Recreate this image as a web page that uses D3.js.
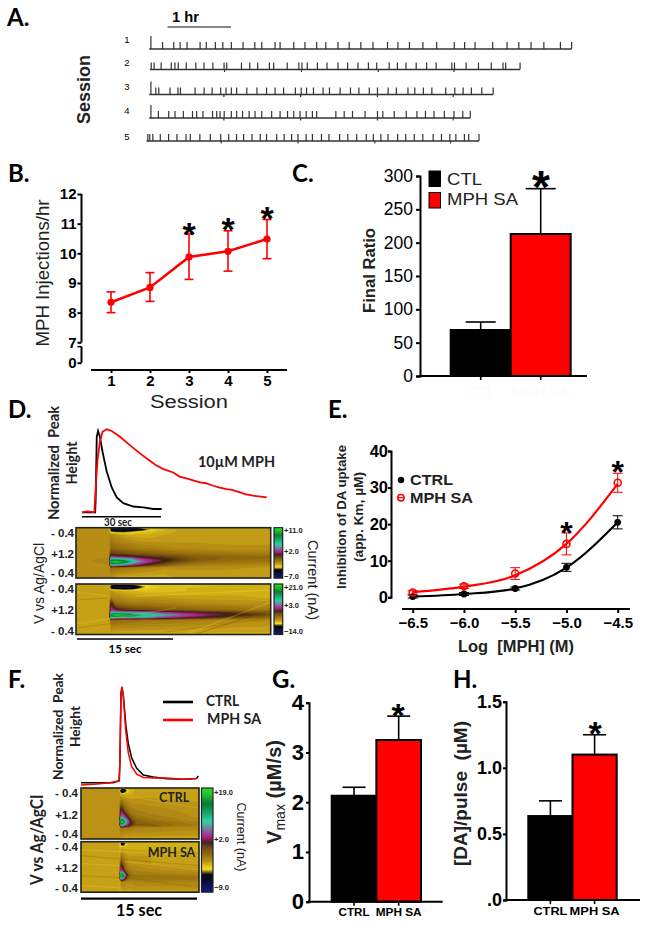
<!DOCTYPE html>
<html><head><meta charset="utf-8">
<script src="https://cdnjs.cloudflare.com/ajax/libs/d3/7.8.5/d3.min.js"></script>
<style>html,body{margin:0;padding:0;background:#fff}svg{display:block}text{white-space:pre}</style></head>
<body><div id="c"></div>
<script>
// ---------- DATA ----------
// A: injection times in minutes from session start
const sessions=[1,2,3,4,5];
const session1=[1.6,12.5,23,29,35.5,47.7,53.5,62,69,77,88,99,105.5,118,122.7,135.5,146,157,165.6,177,187.5,198.4,209.8,223.4,233.2,244,256.6,269.5,286,295.7,305.5,322,335.5,346.5,358,370,385.5,396];
const session2=[1.2,3.9,10.5,20,23.4,26.5,34,43,50.7,59,69.5,72,85.8,93.6,101,112,116,128.7,139.6,142.5,147.5,157,166,176.3,185.3,195,204.8,212.6,224.3,232,240,249.6,259.4,268.3,283,285.5,296.4,308,320,331,333.5,347];
const session3=[1.6,6.2,9,19.5,27,29.3,43,51.5,59,67,72,77,82,91.5,101,110,118,126,137,142.5,147.5,154,163,169,179,188.7,196.6,206.3,214,224,231.7,242.6,249,257,265,278,286.5,294.3,302,311.8,322.5];
const session4=[1.6,8.6,18.3,24.2,32,40.6,44.5,50.4,59.4,63.3,66.4,70.3,77,82,87.5,93.7,99.2,105.5,114.8,122.7,129.7,135.5,141.4,147.2,153,157,175,182.8,190.6,202.4,214,219,229.7,241,251,259,267,276.7,285.7,294,301];
const session5=[1.2,3,5.9,12.9,20.7,28.5,37,41,50,59.8,69.5,77,84.4,91,98.9,106.6,112.5,122,129,136,142,149.6,155.5,164,171,181,188.7,197,206,212.6,219.7,226.4,235.4,243,251,259,268.7,276.5,284.3,290,298,302,311.7];
const sessionTimes=[session1,session2,session3,session4,session5];
const sessionEnd=[396,347,322.5,301,311.7];
const sessionStart=[0,0.7,0,0,-2.5];
const sessionLine=[49,69.5,94.5,118,141];
const tallFirst=[true,false,true,true,false];
const hourMarks=[[],[70,142,214,285],[70,142,214,285],[70,142,214,285],[70,142,214,285]];
// B
const bSessions=[1,2,3,4,5];
const bMean=[8.35,8.85,9.88,10.07,10.48];
const bUpper=[8.7,9.35,10.65,10.76,11.14];
const bLower=[8.0,8.38,9.12,9.4,9.82];
const bTicks=[0,7,8,9,10,11,12];
// C
const cGroups=["CTL","MPH SA"];
const cValues=[69,213];
const cErrors=[81,281];
const cTicks=[0,50,100,150,200,250,300];
// D traces: seconds, % of peak
const dBlackT=[0,5,5.2,5.6,6.1,6.8,7.8,9.4,11.3,13.2,15.7,19.5,23.3,27.1,30.3];
const dBlackV=[0,0,15,91,98,91,73,49,30,18,11,7,6,4,4];
const dRedT=[0,2,4.7,5.3,5.9,6.8,7.8,9.4,11.3,14.4,18.2,22,25.8,28,30.9,34.7,37,39.7,44.8,47,49.9,52,54.9,57,60,62,65,68,70.2];
const dRedV=[0,1,0,35,63,85,97,100,98,91,81,71,62,57,52,48,43,41,36,35,32,30,28,27,24,22,20,19,18];
// heat maps: colour-bar position (0 bottom ... 100 top)
const d1Rows=[0,2,4,7,13,21,26,29,32,34,37,40,50];
const d1Cols=[0,33,35,40,48,56,66,76,88,100,120,150,195];
const d1Heat=[
[30,30,14,12,14,16,22,28,28,28,28,28,28],
[30,30,12,10,10,12,15,22,26,28,28,28,28],
[30,30,20,18,18,20,24,26,27,28,28,28,28],
[30,30,32,30,28,27,27,27,28,28,28,28,28],
[30,30,34,32,31,30,29,29,29,29,29,29,29],
[30,30,37,36,35,34,33,33,32,31,31,30,30],
[30,31,44,42,41,40,39,38,37,36,35,34,33],
[30,31,55,52,51,49,46,44,43,41,38,37,36],
[30,32,78,76,72,66,56,52,48,44,39,36,35],
[30,32,95,100,92,72,60,52,46,42,37,35,34],
[30,31,70,68,62,56,50,44,40,36,33,32,31],
[30,30,36,35,34,33,32,31,30,30,30,30,29],
[30,30,30,28,27,27,27,27,27,28,28,28,28]];
const d2Rows=[0,2,4,7,13,19,23,26,29,31,33,36,50];
const d2Cols=[0,33,35,40,48,57,70,87,110,140,165,187,195];
const d2Heat=[
[28,28,26,24,24,24,26,27,27,27,26,26,26],
[28,28,14,11,11,13,22,25,25,26,26,26,26],
[28,28,14,11,11,13,23,25,26,26,26,26,26],
[28,28,30,28,27,26,25,25,26,26,26,26,26],
[28,28,32,31,30,29,29,29,28,28,28,27,27],
[28,28,46,35,34,33,33,32,31,30,30,30,30],
[28,28,52,42,40,38,37,36,35,34,33,32,31],
[28,28,55,49,45,43,41,40,38,36,35,34,33],
[28,28,68,68,67,66,64,58,52,48,44,40,38],
[28,28,92,100,96,84,70,66,57,50,46,42,40],
[28,28,72,72,70,68,66,58,52,46,41,38,36],
[28,28,36,36,35,35,34,34,33,32,31,31,30],
[28,28,28,27,27,27,27,27,27,27,27,27,27]];
const fRows=[0,2,4,6,14,22,26,29,32,34,37,40,51];
const fCols=[0,38,40,42,44,47,50,55,70,118];
const f1Heat=[
[30,30,28,24,26,28,28,28,28,28],
[30,30,12,8,14,24,26,28,28,28],
[30,30,14,10,18,25,27,28,28,28],
[30,30,27,26,27,27,27,28,28,28],
[30,30,36,34,32,31,30,30,30,29],
[30,30,50,44,38,35,33,32,31,30],
[30,30,55,54,48,38,35,33,32,30],
[30,30,62,60,56,46,38,35,33,30],
[30,30,85,80,66,55,42,37,34,31],
[30,30,100,100,72,58,48,38,36,32],
[30,30,70,68,60,52,44,38,37,33],
[30,30,34,34,33,33,33,32,32,31],
[30,30,29,28,28,28,28,28,28,28]];
const f2Heat=[
[28,28,27,24,26,27,27,27,27,27],
[28,28,14,8,18,26,27,27,27,27],
[28,28,22,18,24,26,27,27,27,27],
[28,28,27,27,27,27,27,27,27,27],
[28,28,34,32,30,29,29,29,29,28],
[28,28,46,38,34,31,30,30,29,28],
[28,28,52,48,36,33,32,31,30,29],
[28,28,56,52,40,35,33,32,31,30],
[28,28,80,74,54,38,34,33,33,31],
[28,28,100,92,62,42,36,34,34,33],
[28,28,64,60,46,36,34,34,35,34],
[28,28,32,32,32,31,31,32,32,32],
[28,28,28,28,28,28,28,28,28,28]];
const barStops=[0,10,17,22,30,42,47,53,62,68,85,100];
const barColours=["#101c80","#0a1038","#000000","#f5e020","#b98f12","#6b4510","#3a2010","#b0208a","#6a8aa0","#20d0a0","#0a7a30","#20e820"];
// streaks: [x1,y1,x2,y2,colour] in heat-map units
const d2Streaks=[[110,50,195,18,"#f0d840"],[120,50,195,26,"#6b4510"],[0,40,100,24,"#e8cc30"],[0,44,80,34,"#8a6510"],[0,8,33,12,"#e8cc30"],[0,16,33,14,"#8a6510"],[60,12,195,6,"#f0d840"],[90,48,195,34,"#8a6510"]];
const f2Streaks=[[0,8,118,14,"#e8cc30"],[0,14,118,24,"#8a6510"],[0,22,38,24,"#e8cc30"],[0,34,38,36,"#8a6510"],[0,44,38,46,"#e8cc30"],[45,20,118,28,"#e8cc30"],[45,36,118,46,"#8a6510"],[39,0,39,51,"#e8d040"]];
const f1Streaks=[[45,8,118,20,"#e0c430"],[50,36,80,38,"#5a3a10"]];
// E
const eLog=[-6.5,-6,-5.5,-5,-4.5];
const eCtrl=[0.2,0.9,2.4,8.2,20.5];
const eCtrlErr=[0.4,0.4,0.4,1.1,1.8];
const eMph=[1.3,3,6.5,14.6,31.3];
const eMphErr=[0.5,0.6,1.6,3,2.6];
const eCtrlFit=[0.2,0.9,2.4,8.1,20.5];
const eMphFit=[1.4,2.9,6.0,14.6,31.0];
const eTicks=[0,10,20,30,40];
// F traces
const fBlackT=[0,2.46,4.18,4.96,5.04,5.17,5.3,5.47,5.82,6.12,6.55,7.2,8.06,9.35,11.08,13.23,14.96,15.17];
const fBlackV=[-1,-1,-1,1,23,93,99,91,58,40,25,14,7,5,3,2.5,3.5,6];
const fRedT=[0,2.03,3.75,4.91,5.04,5.17,5.3,5.47,5.78,6.12,6.55,7.2,8.06,9.35,11.08,13.23,14.96];
const fRedV=[-3.5,-2.5,-1,1,23,93,100,90,54,30,16,8,4.5,4,4,2.5,3];
// G, H
const gValues=[2.13,3.25];
const gErrors=[2.30,3.73];
const gTicks=[0,1,2,3,4];
const hValues=[0.635,1.10];
const hErrors=[0.75,1.25];
const hTicks=[0,0.5,1,1.5];
const ghGroups=["CTRL","MPH SA"];

// ---------- HELPERS ----------
const SANS="'Liberation Sans',Arial,sans-serif", LATO="Lato,'Open Sans',sans-serif";
const svg=d3.select("#c").append("svg").attr("width",649).attr("height",925).attr("viewBox","0 0 649 925");
const defs=svg.append("defs");
defs.append("filter").attr("id","soft").attr("x","-5%").attr("y","-5%").attr("width","110%").attr("height","110%")
  .append("feGaussianBlur").attr("stdDeviation",0.6);
function txt(x,y,s,o={}){
  const t=svg.append("text").attr("x",x).attr("y",y).text(s)
    .attr("font-family",o.family||SANS).attr("font-size",o.size||12).attr("font-weight",o.weight||"normal")
    .attr("fill",o.fill||"#000").attr("text-anchor",o.anchor||"start");
  if(o.rotate!==undefined)t.attr("transform",`rotate(${o.rotate} ${x} ${y})`);
  if(o.len)t.attr("textLength",o.len).attr("lengthAdjust","spacingAndGlyphs");
  return t;
}
function star(x,cy,size){txt(x,cy+0.56*size,"*",{size,weight:"bold",anchor:"middle"});}
function line(x1,y1,x2,y2,col,w){svg.append("line").attr("x1",x1).attr("y1",y1).attr("x2",x2).attr("y2",y2).attr("stroke",col||"#000").attr("stroke-width",w||1);}
function styleAxis(g,o){
  g.selectAll("path.domain").attr("stroke","#000").attr("stroke-width",o.w||2);
  g.selectAll(".tick line").attr("stroke","#000").attr("stroke-width",o.tw||o.w||2);
  g.selectAll("text").attr("font-family",o.family||SANS).attr("font-size",o.size).attr("font-weight",o.weight||"bold").attr("fill","#000");
}
["A.",7,26,"B.",8,182,"C.",292,182,"D.",8,418,"E.",328,418,"F.",8,688,"G.",272,688,"H.",453,688].reduce((a,v,i,arr)=>{
  if(i%3===0)txt(arr[i+1],arr[i+2],v,{family:LATO,size:24,weight:"bold"});return a;},0);

// ---------- PANEL A ----------
const aX=d3.scaleLinear().domain([0,60]).range([149.2,213.2]);
line(167.5,27,231,27,"#111",1.2);
txt(185.5,22,"1 hr",{size:15,weight:"bold",anchor:"middle",len:27});
txt(90,89.5,"Session",{size:18,weight:"bold",anchor:"middle",rotate:-90,len:69,fill:"#222"});
const aLabelY=[43,66,90,114,140];
sessions.forEach((s,i)=>{
  const y=sessionLine[i], off=sessionStart[i];
  txt(127,aLabelY[i],String(s),{size:9.5,anchor:"middle"});
  const g=svg.append("g").attr("stroke","#333").attr("stroke-width",1.2);
  g.append("line").attr("x1",aX(off)).attr("x2",aX(sessionEnd[i]+off)).attr("y1",y).attr("y2",y).attr("stroke-width",1.4);
  g.selectAll("line.t").data(sessionTimes[i]).join("line").attr("class","t")
    .attr("x1",d=>aX(d+off)).attr("x2",d=>aX(d+off)).attr("y1",y)
    .attr("y2",(d,j)=>y-((j===0&&tallFirst[i])?13:7));
  g.selectAll("line.h").data(hourMarks[i]).join("line").attr("class","h")
    .attr("x1",d=>aX(d+off)).attr("x2",d=>aX(d+off)).attr("y1",y).attr("y2",y+2.5);
});

// ---------- PANEL B ----------
const bX=d3.scaleLinear().domain([1,5]).range([111,267]);
const bY=d3.scaleLinear().domain([0,7,12]).range([362.7,342.3,194]);
const bAxis=svg.append("g").attr("transform","translate(81.5,0)").call(d3.axisLeft(bY).tickValues(bTicks).tickSize(4).tickPadding(1).tickFormat(d3.format("d")));
styleAxis(bAxis,{size:15});
bAxis.select("path.domain").remove();
line(81.5,bY(7),81.5,bY(12),"#000",2);
line(81.5,bY(0),81.5,bY(5.5),"#000",2);
line(77.5,bY(5.5),81.5,bY(5.5),"#000",1.5);
const bXAxis=svg.append("g").attr("transform","translate(0,370)").call(d3.axisBottom(bX).tickValues(bSessions).tickSize(3).tickPadding(2).tickFormat(d3.format("d")));
styleAxis(bXAxis,{size:15});
bXAxis.select("path.domain").attr("d","M91,0H287");
txt(49,273,"MPH Injections/hr",{size:18.5,anchor:"middle",rotate:-90,len:147,fill:"#222"});
txt(189,407.5,"Session",{size:17.5,anchor:"middle",len:78,fill:"#222"});
const RED="#ff0000";
bSessions.forEach((s,i)=>{
  line(bX(s),bY(bUpper[i]),bX(s),bY(bLower[i]),RED,1.6);
  line(bX(s)-4.5,bY(bUpper[i]),bX(s)+4.5,bY(bUpper[i]),RED,1.6);
  line(bX(s)-4.5,bY(bLower[i]),bX(s)+4.5,bY(bLower[i]),RED,1.6);
});
svg.append("path").attr("d",d3.line().x((d,i)=>bX(bSessions[i])).y(d=>bY(d))(bMean)).attr("fill","none").attr("stroke",RED).attr("stroke-width",2.6);
svg.selectAll("circle.b").data(bMean).join("circle").attr("class","b").attr("cx",(d,i)=>bX(bSessions[i])).attr("cy",d=>bY(d)).attr("r",3.6).attr("fill",RED);
[[3,227],[4,222],[5,211]].forEach(p=>star(bX(p[0]),p[1],34));

// ---------- BAR PANELS ----------
function barPanel(o){
  const y=d3.scaleLinear().domain(o.domain).range(o.yRange);
  const ax=svg.append("g").attr("transform",`translate(${o.axisX},0)`).call(d3.axisLeft(y).tickValues(o.ticks).tickSize(o.tick||4).tickPadding(o.pad||2).tickFormat(o.format));
  styleAxis(ax,{size:o.tickSize,weight:o.tickWeight,w:2});
  const xb=d3.scaleBand().domain(o.groups).range(o.barRange).padding(0);
  o.groups.forEach((g,i)=>{
    const cx=xb(g)+xb.bandwidth()/2;
    line(cx,y(o.values[i]),cx,y(o.errors[i]),"#000",1.6);
    line(cx-o.cap,y(o.errors[i]),cx+o.cap,y(o.errors[i]),"#000",1.6);
    line(cx,y(0),cx,y(0)+4,"#000",1.6);
    svg.append("rect").attr("x",xb(g)).attr("y",y(o.values[i])).attr("width",xb.bandwidth()).attr("height",y(0)-y(o.values[i]))
      .attr("fill",i===0?"#000":RED).attr("stroke","#000").attr("stroke-width",2);
    if(o.label)txt(cx+(o.labelDx?o.labelDx[i]:0),o.labelY,g,{size:o.labelSize,weight:o.labelWeight||"bold",anchor:"middle",fill:o.labelFill||"#000",len:o.labelLen?o.labelLen[i]:null});
  });
  line(o.axisX-1,y(0),o.axisEnd,y(0),"#000",2);
  return {y,xb};
}
// C
const cP=barPanel({domain:[0,300],yRange:[376,176],axisX:420,axisEnd:587,ticks:cTicks,tick:4,pad:3,format:d3.format("d"),tickSize:17.5,tickWeight:"normal",
  groups:cGroups,values:cValues,errors:cErrors,barRange:[450.7,570.7],cap:15,label:true,labelY:397,labelSize:15,labelWeight:"normal",labelFill:"#fbfbfb"});
txt(375,270.5,"Final Ratio",{size:16,weight:"bold",anchor:"middle",rotate:-90,len:85,fill:"#222"});
svg.append("rect").attr("x",429).attr("y",171).attr("width",11.5).attr("height",15.5).attr("fill","#000").attr("stroke","#000");
svg.append("rect").attr("x",429).attr("y",192.5).attr("width",11.5).attr("height",15.5).attr("fill",RED).attr("stroke","#000");
txt(447,185,"CTL",{size:17,len:35,fill:"#222"});
txt(447,205,"MPH SA",{size:17,len:71,fill:"#222"});
star(541,177,46);
// G
barPanel({domain:[0,4],yRange:[901.7,702.7],axisX:309,axisEnd:442.7,ticks:gTicks,tick:3,pad:0,format:d3.format("d"),tickSize:22,
  groups:ghGroups,values:gValues,errors:gErrors,barRange:[331.7,421],cap:11.5,label:true,labelY:915.7,labelSize:10,labelLen:[31,46]});
const vt=txt(280.7,792,"V",{size:20,weight:"bold",anchor:"middle",rotate:-90,fill:"#222"});
vt.text(null);
vt.append("tspan").text("V");
vt.append("tspan").attr("font-size",14).attr("dy",4).attr("font-weight","normal").text("max");
vt.append("tspan").attr("dy",-4).text(" (µM/s)");
vt.attr("textLength",104).attr("lengthAdjust","spacing");
star(398,707.7,34);
// H
barPanel({domain:[0,1.5],yRange:[900,701.7],axisX:506,axisEnd:640,ticks:hTicks,tick:3,pad:1,
  format:d=>d===0?".0":d3.format(".1f")(d),tickSize:18,
  groups:ghGroups,values:hValues,errors:hErrors,barRange:[528.3,616.7],cap:11.5,label:true,labelY:915,labelSize:11,labelLen:[34,50]});
txt(466.7,793.5,"[DA]/pulse  (µM)",{size:18,weight:"bold",anchor:"middle",rotate:-90,len:145,fill:"#222"});
star(595,726,34);

// ---------- HEAT MAPS ----------
const heatColour=d3.scaleLinear().domain(barStops).range(barColours).clamp(true);
let hid=0;
function heat(o){
  const id="h"+(hid++), w=o.w,h=o.h;
  defs.append("clipPath").attr("id",id).append("rect").attr("width",w).attr("height",h);
  const n=o.cols.length,m=o.rows.length;
  const flat=o.matrix.flat();
  const xs=d3.scaleLinear().domain(o.cols.map((c,i)=>i+0.5)).range(o.cols).clamp(true);
  const ys=d3.scaleLinear().domain(o.rows.map((c,i)=>i+0.5)).range(o.rows).clamp(true);
  const path=d3.geoPath(d3.geoTransform({point(x,y){this.stream.point(xs(x),ys(y));}}));
  const th=d3.range(d3.min(flat),101,1.5);
  const outer=svg.append("g").attr("transform",`translate(${o.x},${o.y})`);
  const clip=outer.append("g").attr("clip-path",`url(#${id})`);
  const inner=clip.append("g").attr("filter","url(#soft)");
  inner.append("rect").attr("x",-3).attr("y",-3).attr("width",w+6).attr("height",h+6).attr("fill",heatColour(d3.min(flat)));
  inner.selectAll("path").data(d3.contours().size([n,m]).thresholds(th)(flat)).join("path")
    .attr("d",path).attr("fill",d=>heatColour(d.value+0.75));
  const sk=clip.append("g").attr("filter","url(#soft)");
  sk.selectAll("line").data(o.streaks||[]).join("line")
    .attr("x1",d=>d[0]).attr("y1",d=>d[1]).attr("x2",d=>d[2]).attr("y2",d=>d[3])
    .attr("stroke",d=>d[4]).attr("stroke-width",1.2).attr("opacity",0.3);
  outer.append("rect").attr("width",w).attr("height",h).attr("fill","none").attr("stroke","#222").attr("stroke-width",1.6);
}
function colourBar(x,y,w,h){
  const s=d3.scaleBand().domain(d3.range(0,100)).range([y+h,y]);
  svg.append("g").selectAll("rect").data(d3.range(0,100)).join("rect")
    .attr("x",x).attr("y",d=>s(d)).attr("width",w).attr("height",s.bandwidth()+0.5).attr("fill",d=>heatColour(d));
  svg.append("rect").attr("x",x).attr("y",y).attr("width",w).attr("height",h).attr("fill","none").attr("stroke","#222").attr("stroke-width",1.2);
}
// D
heat({x:76,y:527.7,w:194.7,h:50.3,rows:d1Rows,cols:d1Cols,matrix:d1Heat});
heat({x:76,y:584,w:194.7,h:50.5,rows:d2Rows,cols:d2Cols,matrix:d2Heat,streaks:d2Streaks});
colourBar(274,527.7,8.7,50.3); colourBar(274,584,8.7,50.5);
[["+11.0",533],["+2.0",553.5],["−7.0",578.5],["+21.0",589.5],["+3.0",608],["−14.0",633.5]].forEach(p=>txt(284,p[1],p[0],{size:7.5,weight:"bold",fill:"#222"}));
[["- 0.4",537],["+1.2",558],["- 0.4",577],["- 0.4",593],["+1.2",613.5],["- 0.4",634.5]].forEach(p=>txt(74,p[1],p[0],{size:11.5,weight:"bold",anchor:"end",fill:"#222"}));
txt(44,583.5,"V vs Ag/AgCl",{size:14.5,anchor:"middle",rotate:-90,len:81,fill:"#222"});
txt(308,580,"Current (nA)",{size:14.5,anchor:"middle",rotate:90,len:80,fill:"#222"});
line(77,639,173,639,"#000",1.5);
txt(125,652.7,"15 sec",{family:LATO,size:11.5,weight:"bold",anchor:"middle",len:33});
// D traces
const dX=d3.scaleLinear().domain([0,70.2]).range([82,266.7]);
const dY=d3.scaleLinear().domain([0,100]).range([512.3,429.3]);
const dLine=d3.line().x(d=>dX(d[0])).y(d=>dY(d[1]));
svg.append("path").attr("d",dLine(d3.zip(dBlackT,dBlackV))).attr("fill","none").attr("stroke","#000").attr("stroke-width",1.8);
svg.append("path").attr("d",dLine(d3.zip(dRedT,dRedV))).attr("fill","none").attr("stroke",RED).attr("stroke-width",1.8);
line(82,516.7,161,516.7,"#000",1.5);
txt(118,525.7,"30 sec",{family:LATO,size:10.5,weight:"bold",anchor:"middle",len:28,fill:"#222"});
txt(59,463,"Normalized  Peak",{family:LATO,size:15.5,weight:"bold",anchor:"middle",rotate:-90,len:114,fill:"#222"});
txt(76.7,463,"Height",{family:LATO,size:15.5,weight:"bold",anchor:"middle",rotate:-90,len:43,fill:"#222"});
txt(198,466.7,"10µM MPH",{family:LATO,size:15.5,weight:"bold",len:77,fill:"#222"});
// F
heat({x:81,y:788,w:118,h:51,rows:fRows,cols:fCols,matrix:f1Heat,streaks:f1Streaks});
heat({x:81,y:841.7,w:118,h:50.5,rows:fRows,cols:fCols,matrix:f2Heat,streaks:f2Streaks});
colourBar(201.5,788,11.5,104);
[["+19.0",795],["+2.0",842],["−9.0",890]].forEach(p=>txt(214,p[1],p[0],{size:7.5,weight:"bold",fill:"#222"}));
txt(159,801.7,"CTRL",{family:LATO,size:12.5,weight:"bold",fill:"#222"});
txt(147.7,856.7,"MPH SA",{family:LATO,size:12.5,weight:"bold",fill:"#222"});
[["- 0.4",797],["+1.2",819],["- 0.4",838],["- 0.4",851],["+1.2",871.5],["- 0.4",891.5]].forEach(p=>txt(78,p[1],p[0],{size:11.5,weight:"bold",anchor:"end",fill:"#222"}));
txt(43,840,"V vs Ag/AgCl",{family:LATO,size:16.5,weight:"bold",anchor:"middle",rotate:-90,len:90,fill:"#222"});
txt(236.7,837,"Current (nA)",{size:13,anchor:"middle",rotate:90,len:69,fill:"#222"});
line(81,898.7,197,898.7,"#000",2.2);
txt(139,916,"15 sec",{family:LATO,size:17.5,weight:"bold",anchor:"middle",len:46});
const fX=d3.scaleLinear().domain([0,15.17]).range([81,198.3]);
const fY=d3.scaleLinear().domain([0,100]).range([781.7,686.7]);
const fLine=d3.line().x(d=>fX(d[0])).y(d=>fY(d[1]));
svg.append("path").attr("d",fLine(d3.zip(fBlackT,fBlackV))).attr("fill","none").attr("stroke","#000").attr("stroke-width",1.5);
svg.append("path").attr("d",fLine(d3.zip(fRedT,fRedV))).attr("fill","none").attr("stroke",RED).attr("stroke-width",1.5);
txt(62.7,726.5,"Normalized  Peak",{family:LATO,size:14,weight:"bold",anchor:"middle",rotate:-90,len:107,fill:"#222"});
txt(80,726.5,"Height",{family:LATO,size:14,weight:"bold",anchor:"middle",rotate:-90,len:41,fill:"#222"});
line(163,702,193,702,"#000",2.6);
line(163,720,193,720,RED,2.6);
txt(206,706,"CTRL",{family:LATO,size:14.5,weight:"bold",len:33,fill:"#222"});
txt(207,724,"MPH SA",{family:LATO,size:14.5,weight:"bold",len:54,fill:"#222"});

// ---------- PANEL E ----------
const eX=d3.scaleLinear().domain([-6.5,-4.5]).range([412.7,617.7]);
const eY=d3.scaleLinear().domain([0,40]).range([597.3,451]);
const eAx=svg.append("g").attr("transform","translate(391,0)").call(d3.axisLeft(eY).tickValues(eTicks).tickSize(3).tickPadding(0).tickFormat(d3.format("d")));
styleAxis(eAx,{size:16.5});
const eXAx=svg.append("g").attr("transform","translate(0,609)").call(d3.axisBottom(eX).tickValues(eLog).tickSize(4).tickPadding(4).tickFormat(d3.format(".1f")));
styleAxis(eXAx,{size:15});
eXAx.select("path.domain").attr("d","M402,0H630");
const eLine=d3.line().x((d,i)=>eX(eLog[i])).y(d=>eY(d)).curve(d3.curveMonotoneX);
[[eCtrlFit,"#000"],[eMphFit,RED]].forEach(p=>svg.append("path").attr("d",eLine(p[0])).attr("fill","none").attr("stroke",p[1]).attr("stroke-width",2.2));
function errs(vals,e,col){vals.forEach((v,i)=>{
  const x=eX(eLog[i]);
  line(x,eY(v-e[i]),x,eY(v+e[i]),col,1);
  line(x-5,eY(v-e[i]),x+5,eY(v-e[i]),col,1);
  line(x-5,eY(v+e[i]),x+5,eY(v+e[i]),col,1);
});}
errs(eCtrl,eCtrlErr,"#000"); errs(eMph,eMphErr,RED);
svg.selectAll("circle.e1").data(eCtrl).join("circle").attr("class","e1").attr("cx",(d,i)=>eX(eLog[i])).attr("cy",d=>eY(d)).attr("r",3.4).attr("fill","#000");
svg.selectAll("circle.e2").data(eMph).join("circle").attr("class","e2").attr("cx",(d,i)=>eX(eLog[i])).attr("cy",d=>eY(d)).attr("r",3.5).attr("fill","none").attr("stroke",RED).attr("stroke-width",1.6);
svg.append("circle").attr("cx",401).attr("cy",480).attr("r",3.2).attr("fill","#000");
svg.append("circle").attr("cx",401).attr("cy",497.7).attr("r",3.2).attr("fill","none").attr("stroke",RED).attr("stroke-width",1.5);
line(398,497.7,404,497.7,RED,1.2);
txt(410,485,"CTRL",{size:15.5,weight:"bold",len:43,fill:"#222"});
txt(410,503,"MPH SA",{size:15.5,weight:"bold",len:63,fill:"#222"});
star(eX(-5),526,32); star(eX(-4.5),465,32);
txt(346,517,"Inhibition of DA uptake",{size:12.5,weight:"bold",anchor:"middle",rotate:-90,len:144,fill:"#222"});
txt(363,517,"(app. Km, µM)",{size:12,weight:"bold",anchor:"middle",rotate:-90,len:90,fill:"#222"});
txt(516,651.7,"Log  [MPH] (M)",{size:16.5,weight:"bold",anchor:"middle",len:116,fill:"#222"});
</script></body></html>
